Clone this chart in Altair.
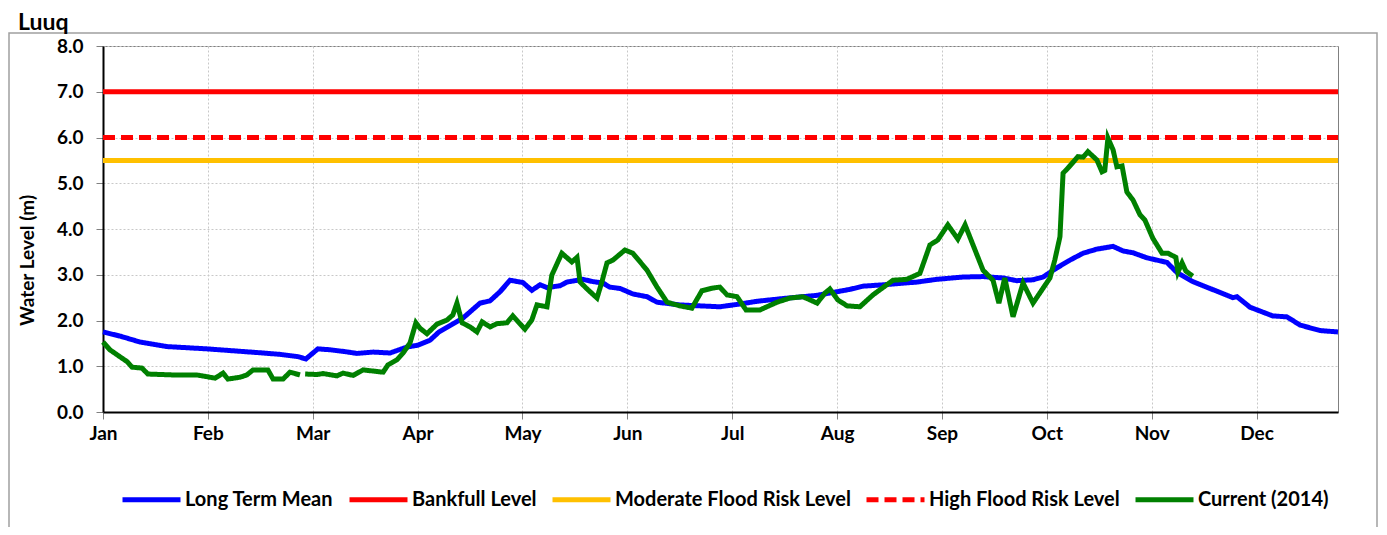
import altair as alt
import pandas as pd

# ---------------- data ----------------
months = ["Jan", "Feb", "Mar", "Apr", "May", "Jun", "Jul", "Aug", "Sep", "Oct", "Nov", "Dec"]
month_ticks = [0, 30.4, 60.8, 91.2, 121.6, 152.0, 182.4, 212.8, 243.2, 273.6, 304.0, 334.4]

series_names = ["Long Term Mean", "Bankfull Level", "Moderate Flood Risk Level",
                "High Flood Risk Level", "Current (2014)"]
series_colors = ["#0000FF", "#FF0000", "#FFC000", "#FF0000", "#008000"]
series_dash = [[1, 0], [1, 0], [1, 0], [12, 6], [1, 0]]

level_names = ["Bankfull Level", "Moderate Flood Risk Level", "High Flood Risk Level"]
level_values = [7.0, 5.5, 6.0]
x_start, x_end = 0, 358

mean_day = [0, 4.9, 10.7, 18.6, 30.1, 44.6, 51.3, 56.5, 58.8, 62.3, 65.8, 70.1, 73.6, 78.3,
            83.2, 88.1, 91.3, 94.8, 97.4, 99.7, 104.3, 109.3, 112.2, 115.1, 118.0, 121.7,
            124.3, 126.7, 128.7, 132.5, 134.5, 139.1, 142.0, 144.9, 146.9, 149.9, 153.6,
            157.7, 160.6, 167.2, 173.0, 178.8, 184.6, 189.6, 197.1, 207.0, 216.5, 220.3,
            226.1, 235.9, 241.7, 249.3, 255.1, 260.9, 264.9, 269.6, 272.5, 276.5, 280.3,
            284.1, 288.1, 292.8, 295.7, 298.6, 302.6, 308.4, 311.3, 315.9, 320.9, 327.5,
            328.7, 332.5, 339.1, 343.2, 347.0, 352.8, 358.0]
mean_val = [1.75, 1.66, 1.53, 1.43, 1.38, 1.30, 1.26, 1.21, 1.16, 1.38, 1.36, 1.32, 1.28, 1.31,
            1.29, 1.42, 1.46, 1.57, 1.75, 1.85, 2.05, 2.38, 2.43, 2.63, 2.88, 2.83, 2.66,
            2.78, 2.72, 2.76, 2.84, 2.90, 2.85, 2.82, 2.73, 2.70, 2.58, 2.52, 2.40, 2.34,
            2.32, 2.30, 2.36, 2.42, 2.48, 2.55, 2.68, 2.75, 2.78, 2.84, 2.90, 2.95, 2.96,
            2.93, 2.87, 2.89, 2.95, 3.15, 3.32, 3.47, 3.56, 3.62, 3.52, 3.48, 3.37, 3.27,
            3.05, 2.85, 2.70, 2.50, 2.52, 2.29, 2.10, 2.08, 1.90, 1.78, 1.75]

cur_day = [0, 2.0, 4.1, 7.0, 8.4, 11.3, 13.0, 20.3, 27.2, 32.5,
           34.8, 36.2, 39.7, 41.7, 43.5, 47.8, 49.3, 52.2, 54.2, 57.1,
           57.8, 58.6, 62.0, 63.8, 67.8, 69.6, 72.5, 75.4, 81.2, 82.6,
           85.2, 87.0, 89.0, 90.7, 91.9, 93.9, 96.8, 99.7, 101.4, 102.6,
           104.1, 106.4, 108.4, 109.9, 112.2, 114.2, 117.1, 118.8, 122.3, 124.3,
           125.8, 128.7, 130.1, 133.0, 135.9, 137.4, 138.3, 140.6, 143.2, 144.6,
           146.1, 147.8, 151.3, 153.6, 157.7, 160.6, 163.5, 167.2, 170.7, 173.6,
           176.8, 178.8, 180.9, 183.8, 186.4, 190.4, 195.4, 199.1, 202.9, 207.0,
           209.3, 210.7, 213.0, 215.7, 219.4, 223.2, 229.0, 233.0, 236.8, 239.7,
           242.0, 244.9, 247.8, 249.9, 255.1, 258.0, 259.7, 261.4, 263.8, 266.7,
           269.6, 274.5, 275.9, 277.4, 278.3, 279.7, 282.6, 284.1, 285.5, 288.1,
           289.6, 290.4, 291.3, 292.8, 293.9, 295.4, 296.8, 298.6, 300.6, 302.0,
           304.3, 307.0, 308.7, 311.0, 311.6, 312.8, 313.9, 315.9]
cur_val = [1.53, 1.36, 1.25, 1.10, 0.98, 0.96, 0.83, 0.81, 0.81, 0.74,
           0.85, 0.72, 0.76, 0.81, 0.92, 0.92, 0.72, 0.72, 0.87, 0.81,
           None, 0.83, 0.82, 0.84, 0.79, 0.85, 0.80, 0.92, 0.87, 1.03,
           1.14, 1.29, 1.51, 1.95, 1.83, 1.71, 1.92, 2.01, 2.12, 2.38,
           1.95, 1.86, 1.75, 1.97, 1.86, 1.93, 1.95, 2.10, 1.81, 2.01,
           2.34, 2.30, 2.99, 3.47, 3.28, 3.38, 2.84, 2.67, 2.49, 2.84,
           3.26, 3.32, 3.54, 3.47, 3.10, 2.73, 2.40, 2.32, 2.27, 2.65,
           2.71, 2.73, 2.56, 2.52, 2.23, 2.23, 2.40, 2.49, 2.52, 2.38,
           2.60, 2.69, 2.45, 2.32, 2.30, 2.56, 2.88, 2.90, 3.03, 3.65,
           3.76, 4.09, 3.78, 4.09, 3.10, 2.88, 2.38, 2.93, 2.08, 2.82,
           2.38, 2.93, 3.32, 3.83, 5.22, 5.33, 5.58, 5.57, 5.69, 5.51,
           5.25, 5.28, 5.99, 5.73, 5.36, 5.38, 4.81, 4.63, 4.31, 4.20,
           3.80, 3.47, 3.47, 3.38, 3.06, 3.26, 3.08, 2.97]

# ---------------- tables ----------------
levels_df = pd.DataFrame(
    [{"day": d, "value": v, "series": n}
     for n, v in zip(level_names, level_values) for d in (x_start, x_end)]
)
mean_df = pd.DataFrame({"day": mean_day, "value": mean_val, "series": "Long Term Mean"})
cur_df = pd.DataFrame({"day": cur_day, "value": cur_val, "series": "Current (2014)"})

FONT = "Lato"
label_expr = "[" + ",".join("'%s'" % m for m in months) + "][round(datum.value / 30.4)]"

x_enc = alt.X(
    "day:Q",
    scale=alt.Scale(domain=[x_start, x_end], nice=False, zero=False),
    axis=alt.Axis(
        values=month_ticks, labelExpr=label_expr, title=None,
        grid=True, gridColor="#C8C8C8", gridDash=[2, 2], gridWidth=1,
        domainColor="black", domainWidth=2, tickColor="#808080", tickSize=7,
        labelFont=FONT, labelFontSize=19, labelFontWeight="bold", labelColor="black",
        labelPadding=5, labelFlush=False,
    ),
)
y_enc = alt.Y(
    "value:Q",
    scale=alt.Scale(domain=[0, 8], nice=False),
    axis=alt.Axis(
        values=[0, 1, 2, 3, 4, 5, 6, 7, 8], format=".1f", title="Water Level (m)",
        grid=True, gridColor="#C8C8C8", gridDash=[2, 2], gridWidth=1,
        domainColor="black", domainWidth=2, tickColor="#808080", tickSize=7,
        labelFont=FONT, labelFontSize=19, labelFontWeight="bold", labelColor="black",
        labelPadding=13,
        titleFont=FONT, titleFontSize=19, titleFontWeight="bold", titleColor="black",
        titleX=-76, titleY=214, titleBaseline="middle", titleAlign="center",
    ),
)

legend = alt.Legend(
    title=None, orient="none", legendX=17, legendY=422, direction="horizontal",
    symbolType="M-1,0H1", symbolSize=3364, symbolStrokeWidth=5,
    labelFont=FONT, labelFontSize=20, labelFontWeight="bold", labelColor="black",
    labelOffset=2, columnPadding=5, padding=0, labelLimit=500,
)
color_enc = alt.Color("series:N", scale=alt.Scale(domain=series_names, range=series_colors),
                      legend=legend)
dash_enc = alt.StrokeDash("series:N", scale=alt.Scale(domain=series_names, range=series_dash),
                          legend=legend)

frame = alt.Chart(alt.Data(values=[{}])).mark_rect(
    filled=False, stroke="#A0A0A0", strokeWidth=1.5
).encode(x=alt.value(-94), x2=alt.value(1274), y=alt.value(-13), y2=alt.value(490))

levels = alt.Chart(levels_df).mark_line(strokeWidth=5).encode(
    x=x_enc, y=y_enc, color=color_enc, strokeDash=dash_enc, detail="series:N")
mean_line = alt.Chart(mean_df).mark_line(strokeWidth=5).encode(
    x=x_enc, y=y_enc, color=color_enc, strokeDash=dash_enc)
cur_line = alt.Chart(cur_df).mark_line(strokeWidth=5).encode(
    x=x_enc, y=y_enc, color=color_enc, strokeDash=dash_enc)

chart = alt.layer(frame, levels, mean_line, cur_line).properties(
    width=1235, height=366,
    padding={"left": 95, "top": 38, "right": 41, "bottom": 115},
    autosize=alt.AutoSizeParams(type="none"),
    title=alt.TitleParams(
        text="Luuq", anchor="start", frame="group", fontSize=23, font=FONT,
        fontWeight="bold", color="black", dx=-85, dy=17, offset=14,
    ),
).configure_view(stroke="#808080", strokeWidth=1)

chart.save("out.html", embed_options={"renderer": "svg", "actions": False})
